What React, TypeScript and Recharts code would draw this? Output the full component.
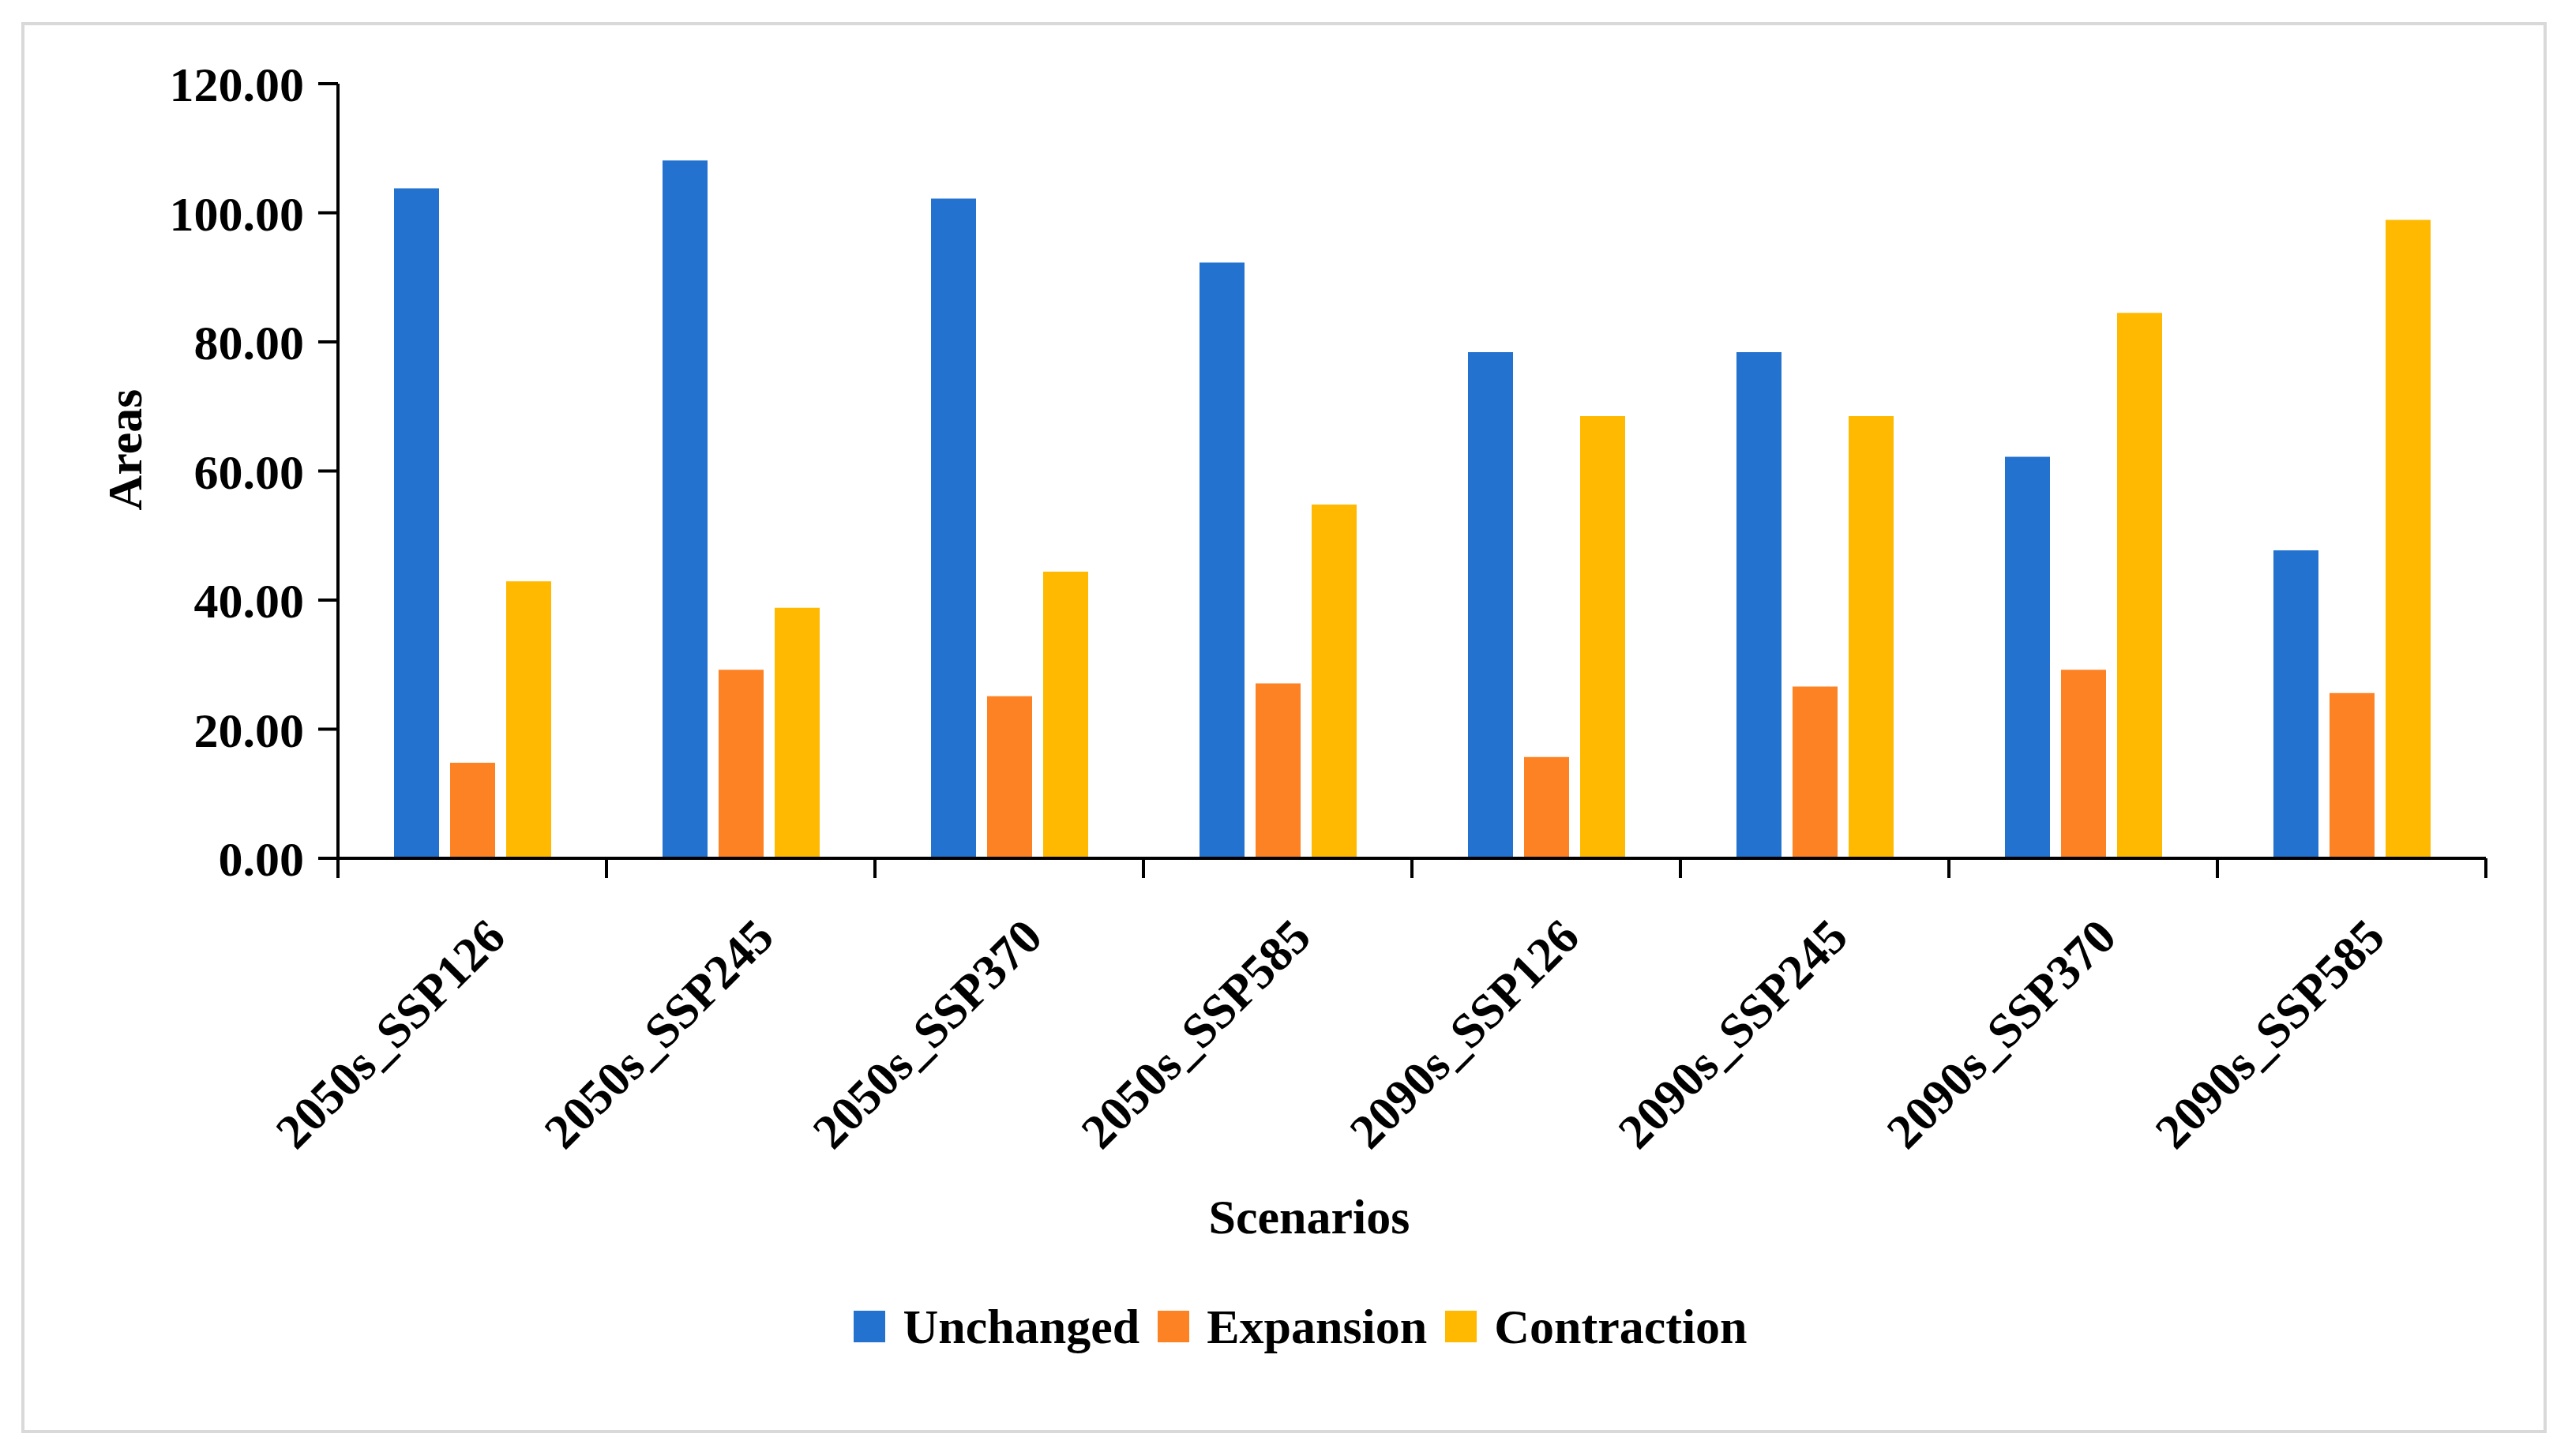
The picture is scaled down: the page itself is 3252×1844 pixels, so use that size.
import React from 'react';
import { BarChart, Bar, XAxis, YAxis, Legend } from 'recharts';

const categories = [
  '2050s_SSP126',
  '2050s_SSP245',
  '2050s_SSP370',
  '2050s_SSP585',
  '2090s_SSP126',
  '2090s_SSP245',
  '2090s_SSP370',
  '2090s_SSP585',
];
const unchanged = [103.8, 108.1, 102.2, 92.3, 78.4, 78.4, 62.2, 47.7];
const expansion = [14.8, 29.2, 25.1, 27.1, 15.7, 26.6, 29.2, 25.6];
const contraction = [42.9, 38.8, 44.4, 54.8, 68.5, 68.5, 84.5, 98.9];
const yTicks = [0, 20, 40, 60, 80, 100, 120];

const seriesNames = ['Unchanged', 'Expansion', 'Contraction'];
const seriesColors = ['#2372CF', '#FD8224', '#FFB900'];

const data = categories.map((c, i) => ({
  name: c,
  Unchanged: unchanged[i],
  Expansion: expansion[i],
  Contraction: contraction[i],
}));

const FONT = '"Liberation Serif", "Times New Roman", serif';

const XTick = (props: any) => {
  const { x, y, payload, width, visibleTicksCount, index } = props;
  const band = width / visibleTicksCount;
  const ax = x + 45;
  const ay = y + 78;
  return (
    <g>
      <line x1={x - band / 2} x2={x - band / 2} y1={y - 25} y2={y} stroke="#000" strokeWidth={4} />
      {index === visibleTicksCount - 1 && (
        <line x1={x + band / 2} x2={x + band / 2} y1={y - 25} y2={y} stroke="#000" strokeWidth={4} />
      )}
      <text
        x={ax}
        y={ay}
        transform={`rotate(-45, ${ax}, ${ay})`}
        textAnchor="end"
        fontFamily={FONT}
        fontWeight="bold"
        fontSize={62}
        fill="#000"
      >
        {payload.value}
      </text>
    </g>
  );
};

const LegendContent = () => (
  <div
    style={{
      display: 'flex',
      justifyContent: 'center',
      alignItems: 'center',
      fontFamily: FONT,
      fontWeight: 'bold',
      fontSize: 62,
      lineHeight: 1,
      color: '#000',
    }}
  >
    {seriesNames.map((n, i) => (
      <div key={n} style={{ display: 'flex', alignItems: 'center', marginLeft: i === 0 ? 0 : 23 }}>
        <span style={{ display: 'inline-block', width: 40, height: 40, background: seriesColors[i] }} />
        <span style={{ marginLeft: 22 }}>{n}</span>
      </div>
    ))}
  </div>
);

export default function App() {
  return (
    <div style={{ position: 'absolute', left: 0, top: 0, width: 3252, height: 1844, background: '#fff' }}>
      <div
        style={{
          position: 'absolute',
          left: 27,
          top: 28,
          width: 3198,
          height: 1787,
          border: '4px solid #d9d9d9',
          boxSizing: 'border-box',
        }}
      />
      <div style={{ position: 'absolute', left: 0, top: 0 }}>
        <BarChart
          width={3252}
          height={1844}
          data={data}
          margin={{ top: 106, right: 104, left: 228, bottom: 457 }}
          barGap={14}
          barSize={57}
        >
          <XAxis
            dataKey="name"
            height={300}
            axisLine={{ stroke: '#000', strokeWidth: 4 }}
            tickLine={false}
            tickSize={25}
            tickMargin={0}
            interval={0}
            tick={<XTick />}
            label={(p: any) => {
              const vb = p.viewBox;
              return (
                <text
                  x={vb.x + vb.width / 2 - 130}
                  y={1562}
                  textAnchor="middle"
                  fontFamily={FONT}
                  fontWeight="bold"
                  fontSize={62}
                  fill="#000"
                >
                  Scenarios
                </text>
              );
            }}
          />
          <YAxis
            width={200}
            domain={[0, 120]}
            ticks={yTicks}
            interval={0}
            tickFormatter={(v: number) => v.toFixed(2)}
            axisLine={{ stroke: '#000', strokeWidth: 4 }}
            tickLine={{ stroke: '#000', strokeWidth: 4 }}
            tickSize={25}
            tickMargin={18}
            tick={{ fill: '#000', fontSize: 62, fontWeight: 'bold', fontFamily: FONT }}
            label={(p: any) => {
              const vb = p.viewBox;
              const cy = vb.y + vb.height / 2 - 27;
              return (
                <text
                  x={179}
                  y={cy}
                  transform={`rotate(-90, 179, ${cy})`}
                  textAnchor="middle"
                  fontFamily={FONT}
                  fontWeight="bold"
                  fontSize={62}
                  fill="#000"
                >
                  Areas
                </text>
              );
            }}
          />
          <Legend
            verticalAlign="middle"
            align="center"
            layout="horizontal"
            content={<LegendContent />}
            wrapperStyle={{ top: 1649, left: 21, width: 3252, bottom: 'auto' }}
          />
          {seriesNames.map((n, i) => (
            <Bar key={n} dataKey={n} fill={seriesColors[i]} isAnimationActive={false} />
          ))}
        </BarChart>
      </div>
    </div>
  );
}
